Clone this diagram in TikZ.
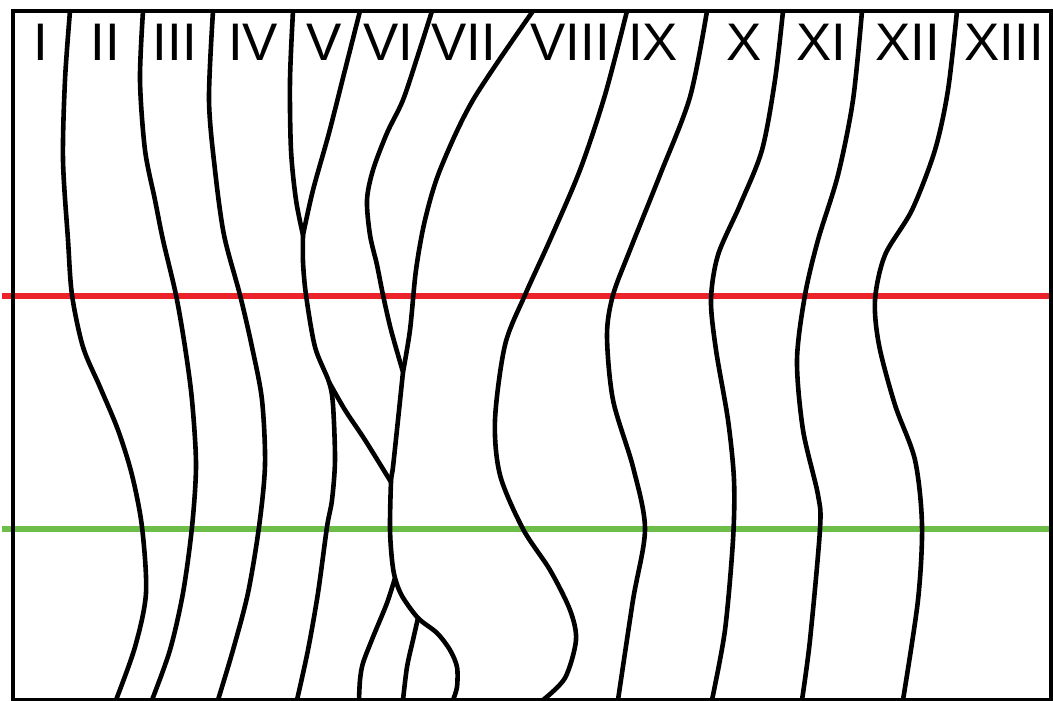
\documentclass[tikz,border=0pt]{standalone}
\usepackage{fontspec}
\setmainfont{Liberation Sans}
\usepackage{xcolor}
\usepackage{tikz}
\usetikzlibrary{calc}

\definecolor{cutred}{RGB}{236,34,42}
\definecolor{cutgreen}{RGB}{108,190,72}

\begin{document}
\begin{tikzpicture}[
  x=0.025cm, y=-0.025cm,
  region/.style={font=\fontsize{37.6}{40}\selectfont, anchor=base, inner sep=0pt},
  border/.style={line width=0.11cm},
  seam/.style={line width=0.115cm, line join=round},
  redcut/.style={draw=cutred, line width=0.13cm},
  greencut/.style={draw=cutgreen, line width=0.13cm}
]
  \useasboundingbox (0,0) rectangle (1053,701);

  % horizontal cuts
  \coordinate (r_w) at (2,296);
  \coordinate (r_e) at (1053,296);
  \coordinate (g_w) at (2,529);
  \coordinate (g_e) at (1053,529);
  \draw[redcut] (r_w) -- (r_e);
  \draw[greencut] (g_w) -- (g_e);

  % junctions
  \coordinate (j_v) at (303,235);
  \coordinate (j_fork) at (329,382);
  \coordinate (j_join) at (391,482);
  \coordinate (j_vi) at (403,372);
  \coordinate (j_low) at (395,578);
  \coordinate (j_foot) at (418,618);

  % seams between regions
  \draw[seam] plot[smooth] coordinates {(70,11) (65,80) (63,160) (68,240) (72,295) (83,347) (100,387) (118,430) (132,475) (142,527) (146,593) (135,647) (116,700)};
  \draw[seam] plot[smooth] coordinates {(143,11) (140,80) (145,150) (155,200) (163,240) (176,295) (185,347) (192,400) (196,465) (192,527) (183,593) (170,650) (152,700)};
  \draw[seam] plot[smooth] coordinates {(213,11) (209,100) (215,170) (224,235) (240,295) (252,347) (262,400) (265,465) (259,527) (248,593) (233,650) (218,700)};

  \draw[seam] plot[smooth] coordinates {(293,11) (290,80) (291,150) (296,200) (j_v)};
  \draw[seam] plot[smooth] coordinates {(360,11) (345,70) (329,133) (313,190) (j_v)};
  \draw[seam] plot[smooth] coordinates {(j_v) (303,262) (306,295) (315,347) (j_fork) (333,405) (335,460) (332,500) (327,527) (318,593) (308,650) (297,700)};
  \draw[seam] plot[smooth] coordinates {(j_fork) (345,410) (365,440) (j_join)};

  \draw[seam] plot[smooth] coordinates {(432,11) (418,55) (403,100) (387,133) (373,170) (367,200) (370,235) (377,265) (383,295) (391,330) (j_vi)};
  \draw[seam] plot[smooth] coordinates {(533,11) (473,100) (440,170) (425,220) (416,270) (410,330) (j_vi)};
  \draw[seam] plot[smooth] coordinates {(j_vi) (398,420) (393,467) (j_join) (390,529) (392,560) (j_low) (402,596) (j_foot) (437,633) (450,650) (457,667) (457,687) (453,700)};
  \draw[seam] plot[smooth] coordinates {(j_low) (387,603) (373,637) (363,663) (360,680) (359,700)};
  \draw[seam] plot[smooth] coordinates {(j_foot) (413,640) (407,667) (403,700)};

  \draw[seam] plot[smooth] coordinates {(627,11) (605,95) (580,170) (550,240) (525,295) (505,345) (495,420) (500,475) (523,529) (550,570) (570,610) (576,640) (565,678) (543,700)};
  \draw[seam] plot[smooth] coordinates {(707,11) (690,97) (660,175) (630,250) (613,295) (607,335) (613,400) (633,467) (645,529) (633,600) (618,700)};
  \draw[seam] plot[smooth] coordinates {(783,11) (775,80) (762,150) (740,205) (718,255) (711,300) (716,350) (728,420) (734,480) (733,540) (725,630) (712,700)};
  \draw[seam] plot[smooth] coordinates {(862,11) (853,100) (838,175) (818,240) (805,295) (797,360) (803,430) (818,495) (820,529) (810,640) (802,700)};
  \draw[seam] plot[smooth] coordinates {(957,11) (948,90) (935,150) (912,210) (885,255) (875,300) (879,345) (895,405) (915,460) (922,525) (918,600) (903,700)};

  % frame
  \draw[border] (13,11) rectangle (1051,700);

  % region labels
  \node[region] (l_i) at (41,61) {I};
  \node[region] (l_ii) at (105,61) {II};
  \node[region] (l_iii) at (175,61) {III};
  \node[region] (l_iv) at (253,61) {IV};
  \node[region] (l_v) at (324,61) {V};
  \node[region] (l_vi) at (388,61) {VI};
  \node[region] (l_vii) at (464,61) {VII};
  \node[region] (l_viii) at (570,61) {VIII};
  \node[region] (l_ix) at (653,61) {IX};
  \node[region] (l_x) at (744,61) {X};
  \node[region] (l_xi) at (821,61) {XI};
  \node[region] (l_xii) at (908,61) {XII};
  \node[region] (l_xiii) at (1004,61) {XIII};
\end{tikzpicture}
\end{document}
